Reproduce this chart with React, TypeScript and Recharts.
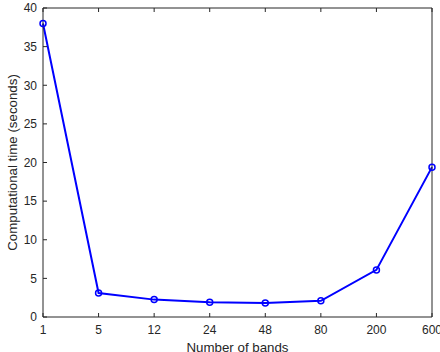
import { Label, Line, LineChart, XAxis, YAxis } from "recharts";

const BANDS = ["1", "5", "12", "24", "48", "80", "200", "600"];
const TIMES = [38, 3.1, 2.25, 1.9, 1.8, 2.1, 6.1, 19.4];
const Y_TICKS = [0, 5, 10, 15, 20, 25, 30, 35, 40];

const data = BANDS.map((b, i) => ({ bands: b, time: TIMES[i] }));

const INK = "#262626";
const FONT = "'Liberation Sans', Arial, sans-serif";
const TICK = { fill: INK, fontSize: 12, fontFamily: FONT };
const TITLE = { fill: INK, fontSize: 13.3, fontFamily: FONT };

export default function App() {
  return (
    <div style={{ position: "absolute", left: 0, top: 0, width: 440, height: 352, background: "#fff" }}>
      <LineChart width={440} height={352} data={data} margin={{ top: 7, right: 7, bottom: 0, left: 0 }}>
        <XAxis
          dataKey="bands"
          xAxisId="b"
          height={35}
          interval={0}
          tick={TICK}
          tickSize={-4}
          tickMargin={12.5}
          stroke={INK}
          tickLine={{ stroke: INK }}
          padding={{ left: 0, right: 0 }}
        >
          <Label value="Number of bands" position="insideBottom" offset={0} style={TITLE} />
        </XAxis>
        <XAxis
          dataKey="bands"
          xAxisId="t"
          orientation="top"
          height={1}
          interval={0}
          tickSize={-4}
          tickFormatter={() => ""}
          stroke={INK}
          padding={{ left: 0, right: 0 }}
        />
        <YAxis
          yAxisId="l"
          width={43}
          domain={[0, 40]}
          ticks={Y_TICKS}
          interval={0}
          tick={TICK}
          tickSize={-4}
          tickMargin={10}
          stroke={INK}
        >
          <Label
            value="Computational time (seconds)"
            angle={-90}
            position="center"
            dx={-9.5}
            style={{ ...TITLE, textAnchor: "middle" }}
          />
        </YAxis>
        <YAxis
          yAxisId="r"
          orientation="right"
          width={1}
          domain={[0, 40]}
          ticks={Y_TICKS}
          interval={0}
          tickSize={-4}
          tickFormatter={() => ""}
          stroke={INK}
        />
        <Line
          xAxisId="b"
          yAxisId="l"
          dataKey="time"
          stroke="#0000ff"
          strokeWidth={2}
          dot={{ r: 3, stroke: "#0000ff", strokeWidth: 1.5, fill: "none" }}
          activeDot={false}
          isAnimationActive={false}
        />
      </LineChart>
    </div>
  );
}
